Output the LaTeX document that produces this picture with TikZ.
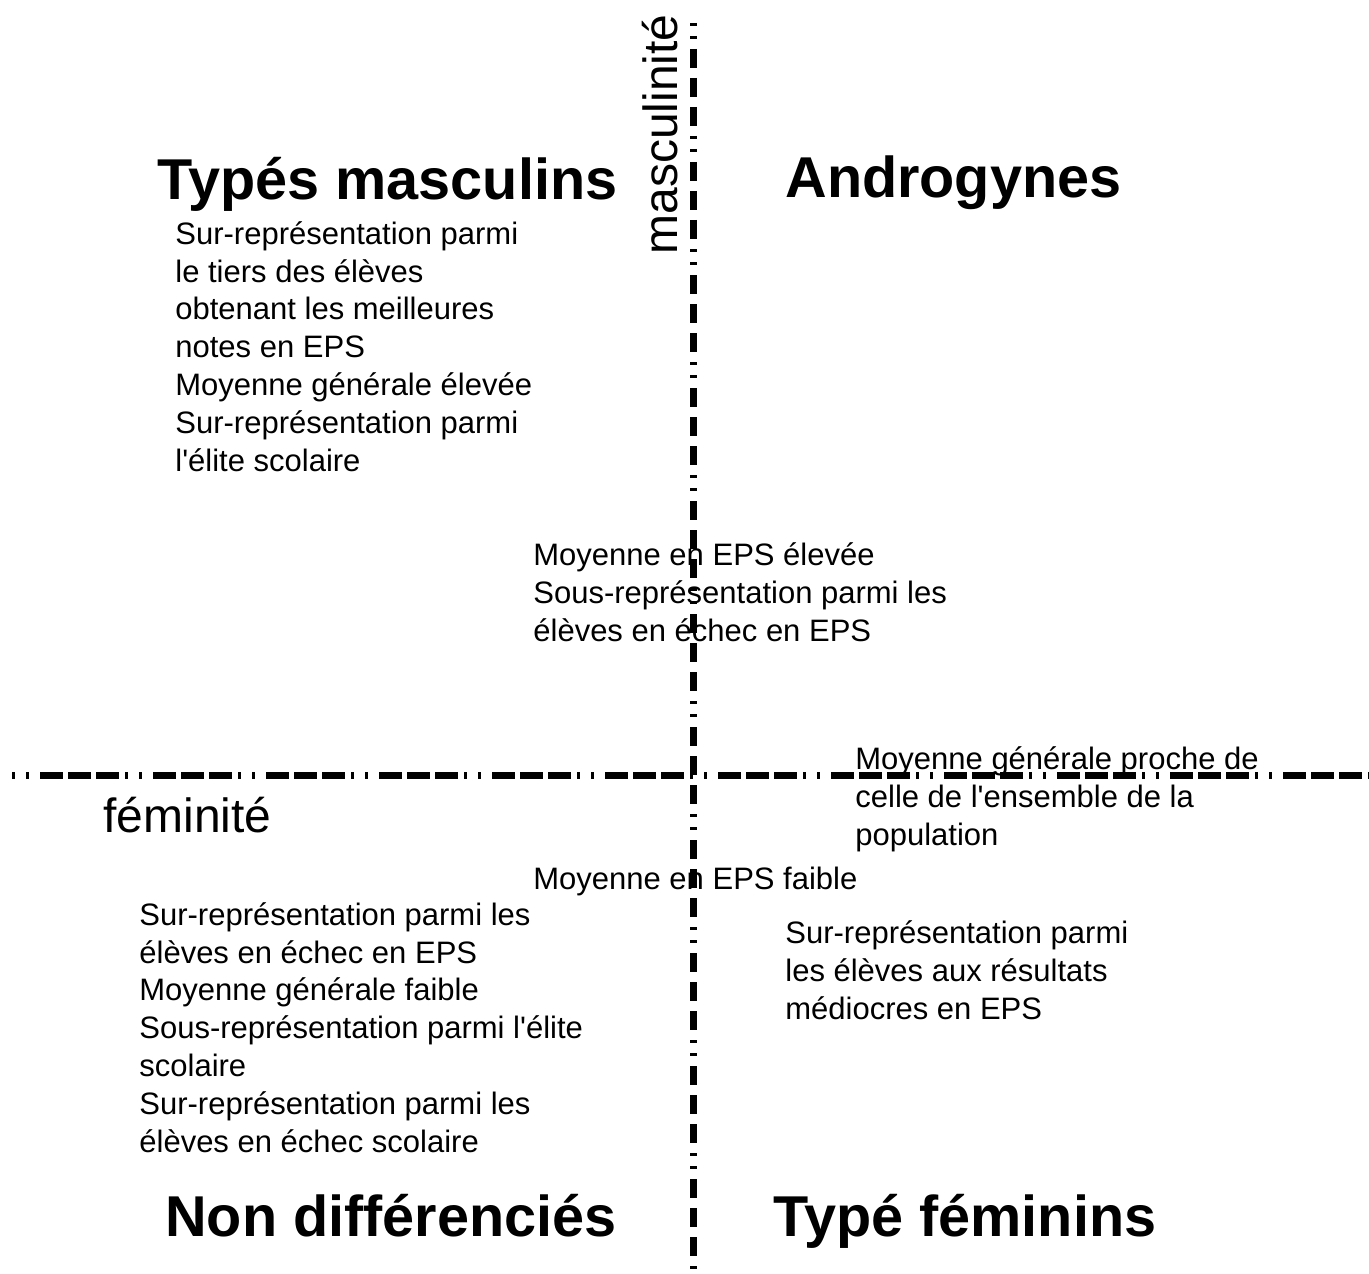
\documentclass[tikz,border=0pt]{standalone}
\usepackage{fontspec}
\setmainfont{Liberation Sans}
\usetikzlibrary{positioning}
\newcommand{\apos}{\textquotesingle}
\tikzset{
	vaxis/.style={line width=3.5pt,
		dash pattern=on 1.5pt off 5pt on 1.5pt off 5pt on 9.5pt off 5pt on 9.5pt off 5pt on 9.5pt off 5pt},
	haxis/.style={line width=3.5pt,
		dash pattern=on 1.5pt off 5.5pt on 1.5pt off 5.5pt on 11.5pt off 2.5pt on 11.5pt off 2.5pt on 11.5pt off 3pt},
	quadrant/.style={font=\fontsize{28.8}{34}\selectfont\bfseries,anchor=base west,inner sep=0},
	% base of a multi-line node = baseline of its last line
	remark/.style={font=\fontsize{15.5}{18.9}\selectfont,align=left,anchor=base west,inner sep=0},
	axislabel/.style={font=\fontsize{24}{28}\selectfont,anchor=base west,inner sep=0}
}

\begin{document}
\begin{tikzpicture}[x=0.5pt,y=-0.5pt]
	\useasboundingbox (0,0) rectangle (1369,1273);
	
	% axes
	\coordinate (top) at (693,23);
	\coordinate (bottom) at (693,1273);
	\coordinate (left) at (12,775);
	\coordinate (right) at (1369,775);
	\draw[vaxis] (top) -- (bottom);
	\draw[haxis] (left) -- (right);
	\node[axislabel,rotate=90] (masc) at (677,255) {masculinité};
	\node[axislabel] (fem) at (103,832) {féminité};
	
	% quadrants
	\node[quadrant] (tm) at (157,200) {Typés masculins};
	\node[quadrant] (andro) at (785,198) {Androgynes};
	\node[quadrant] (nd) at (165,1236) {Non différenciés};
	\node[quadrant] (tf) at (773,1236) {Typé féminins};
	
	% remarks
	\node[remark] (tmtext) at (175,471) {Sur-représentation parmi\\le tiers des élèves\\obtenant les meilleures\\notes en EPS\\Moyenne générale élevée\\Sur-représentation parmi\\l\apos élite scolaire};
	\node[remark] (high) at (533,641) {Moyenne en EPS élevée\\Sous-représentation parmi les\\élèves en échec en EPS};
	\node[remark] (mean) at (855,845) {Moyenne générale proche de\\celle de l\apos ensemble de la\\population};
	\node[remark] (low) at (533,889) {Moyenne en EPS faible};
	\node[remark] (ndtext) at (139,1152) {Sur-représentation parmi les\\élèves en échec en EPS\\Moyenne générale faible\\Sous-représentation parmi l\apos élite\\scolaire\\Sur-représentation parmi les\\élèves en échec scolaire};
	\node[remark] (tftext) at (785,1019) {Sur-représentation parmi\\les élèves aux résultats\\médiocres en EPS};
\end{tikzpicture}
\end{document}
